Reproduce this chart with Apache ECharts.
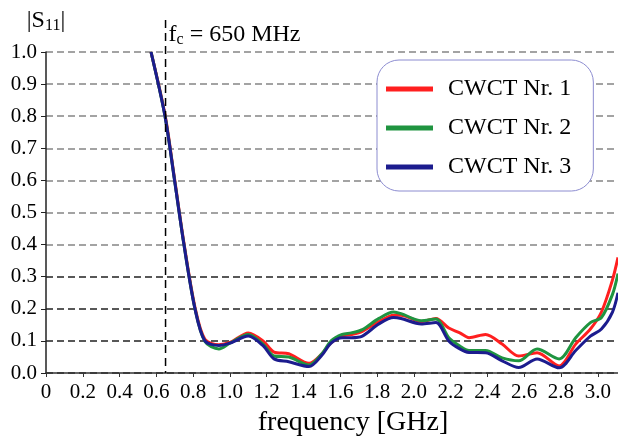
<!DOCTYPE html>
<html>
<head>
<meta charset="utf-8">
<script src="https://cdn.jsdelivr.net/npm/echarts@6/dist/echarts.min.js"></script>
<style>
  html, body { margin: 0; padding: 0; background: #fff; }
  #chart { width: 618px; height: 441px; }
</style>
</head>
<body>
<div id="chart"></div>
<script>
// frequency [GHz] and |S11|
var freq = [0.571, 0.647, 0.699, 0.75, 0.81, 0.864, 0.94, 1.00, 1.10, 1.18, 1.24, 1.32, 1.43, 1.50, 1.55, 1.61, 1.66, 1.72, 1.81, 1.89, 1.93, 2.04, 2.12, 2.19, 2.25, 2.30, 2.39, 2.48, 2.57, 2.67, 2.79, 2.88, 2.96, 3.02, 3.08, 3.11];
var cwct1 = [1.0, 0.805, 0.605, 0.405, 0.205, 0.105, 0.088, 0.095, 0.125, 0.10, 0.065, 0.06, 0.03, 0.06, 0.095, 0.115, 0.12, 0.13, 0.16, 0.18, 0.18, 0.16, 0.17, 0.14, 0.125, 0.11, 0.12, 0.09, 0.053, 0.063, 0.022, 0.09, 0.137, 0.19, 0.29, 0.36];
var cwct2 = [1.0, 0.8, 0.6, 0.4, 0.2, 0.098, 0.075, 0.093, 0.12, 0.09, 0.053, 0.05, 0.025, 0.06, 0.10, 0.12, 0.125, 0.135, 0.17, 0.19, 0.185, 0.163, 0.168, 0.11, 0.084, 0.07, 0.07, 0.047, 0.038, 0.075, 0.044, 0.11, 0.157, 0.173, 0.245, 0.31];
var cwct3 = [1.0, 0.8, 0.6, 0.4, 0.2, 0.1, 0.086, 0.093, 0.115, 0.085, 0.044, 0.035, 0.02, 0.055, 0.093, 0.11, 0.11, 0.115, 0.153, 0.173, 0.17, 0.153, 0.157, 0.10, 0.075, 0.064, 0.063, 0.038, 0.017, 0.044, 0.016, 0.07, 0.115, 0.137, 0.19, 0.25];
var names = ['CWCT Nr. 1', 'CWCT Nr. 2', 'CWCT Nr. 3'];
var colors = ['#ff1f1f', '#1f9440', '#1c1c8e'];
var fc = 0.65;

var serif = '"Liberation Serif", "Times New Roman", serif';

function pairs(ys) {
    return freq.map(function (f, i) { return [f, ys[i]]; });
}

var chart = echarts.init(document.getElementById('chart'));

var option = {
    animation: false,
    color: colors,
    textStyle: { fontFamily: serif, color: '#000' },
    grid: { left: 46, right: 0, top: 52, bottom: 68, outerBoundsMode: 'none', containLabel: false },
    legend: {
        data: names,
        orient: 'vertical',
        left: 377,
        top: 60,
        icon: 'rect',
        itemWidth: 47,
        itemHeight: 5,
        itemGap: 15,
        padding: [17, 22, 12, 9],
        backgroundColor: '#fff',
        borderColor: '#8c8cd0',
        borderWidth: 1,
        borderRadius: 22,
        textStyle: { fontFamily: serif, fontSize: 24, color: '#000', padding: [0, 0, 0, 10] }
    },
    xAxis: {
        type: 'value',
        min: 0,
        max: 3.11,
        interval: 0.2,
        name: 'frequency [GHz]',
        nameLocation: 'middle',
        nameGap: 36,
        nameTextStyle: { fontFamily: serif, fontSize: 28, color: '#000', padding: [0, 0, 0, 42] },
        axisLine: { lineStyle: { color: '#333', width: 1.5 } },
        axisTick: { show: true, inside: false, length: 4, lineStyle: { color: '#333' } },
        axisLabel: {
            fontFamily: serif, fontSize: 21, color: '#000', margin: 9,
            formatter: function (v) {
                if (Math.abs(v / 0.2 - Math.round(v / 0.2)) > 1e-6) return '';
                return v === 0 ? '0' : v.toFixed(1);
            }
        },
        splitLine: { show: false }
    },
    yAxis: {
        type: 'value',
        min: 0,
        max: 1,
        interval: 0.1,
        name: '|S{s|11}|',
        nameLocation: 'end',
        nameGap: 18,
        nameTextStyle: {
            fontFamily: serif, fontSize: 24, color: '#000', align: 'center', padding: [0, 0, 0, 0],
            rich: {
                s: { fontFamily: serif, fontSize: 16, verticalAlign: 'bottom', padding: [10, 0, 0, 0] }
            }
        },
        axisLine: { show: true, lineStyle: { color: '#222', width: 1.5 } },
        axisTick: { show: true, inside: false, length: 5, lineStyle: { color: '#222' } },
        axisLabel: {
            fontFamily: serif, fontSize: 21, color: '#000', margin: 9,
            formatter: function (v) { return v.toFixed(1); }
        },
        splitLine: {
            show: true,
            lineStyle: {
                type: [7, 4],
                width: 1.5,
                color: ['#222', '#222', '#222', '#222', '#858585', '#858585', '#858585', '#858585', '#858585', '#858585', '#858585']
            }
        }
    },
    series: [
        { name: names[0], type: 'line', data: pairs(cwct1), smooth: 0.3, symbol: 'none', lineStyle: { width: 3 }, z: 3 },
        { name: names[1], type: 'line', data: pairs(cwct2), smooth: 0.3, symbol: 'none', lineStyle: { width: 3 }, z: 4 },
        { name: names[2], type: 'line', data: pairs(cwct3), smooth: 0.3, symbol: 'none', lineStyle: { width: 3 }, z: 5 }
    ]
};
chart.setOption(option);

// cutoff marker: positioned from the axis scales
var fx = chart.convertToPixel({ xAxisIndex: 0 }, fc);
var y0 = chart.convertToPixel({ yAxisIndex: 0 }, 0);
chart.setOption({
    graphic: [
        {
            type: 'line',
            z: 10,
            shape: { x1: fx, y1: 20, x2: fx, y2: y0 },
            style: { stroke: '#000', lineWidth: 1.5, lineDash: [8, 5] }
        },
        {
            type: 'text',
            z: 10,
            x: fx + 3,
            y: 22,
            style: {
                text: 'f{s|c} = 650 MHz',
                fontFamily: serif,
                fontSize: 24,
                fill: '#000',
                rich: {
                    s: { fontFamily: serif, fontSize: 16, verticalAlign: 'bottom', padding: [10, 0, 0, 0] }
                }
            }
        }
    ]
});
</script>
</body>
</html>
